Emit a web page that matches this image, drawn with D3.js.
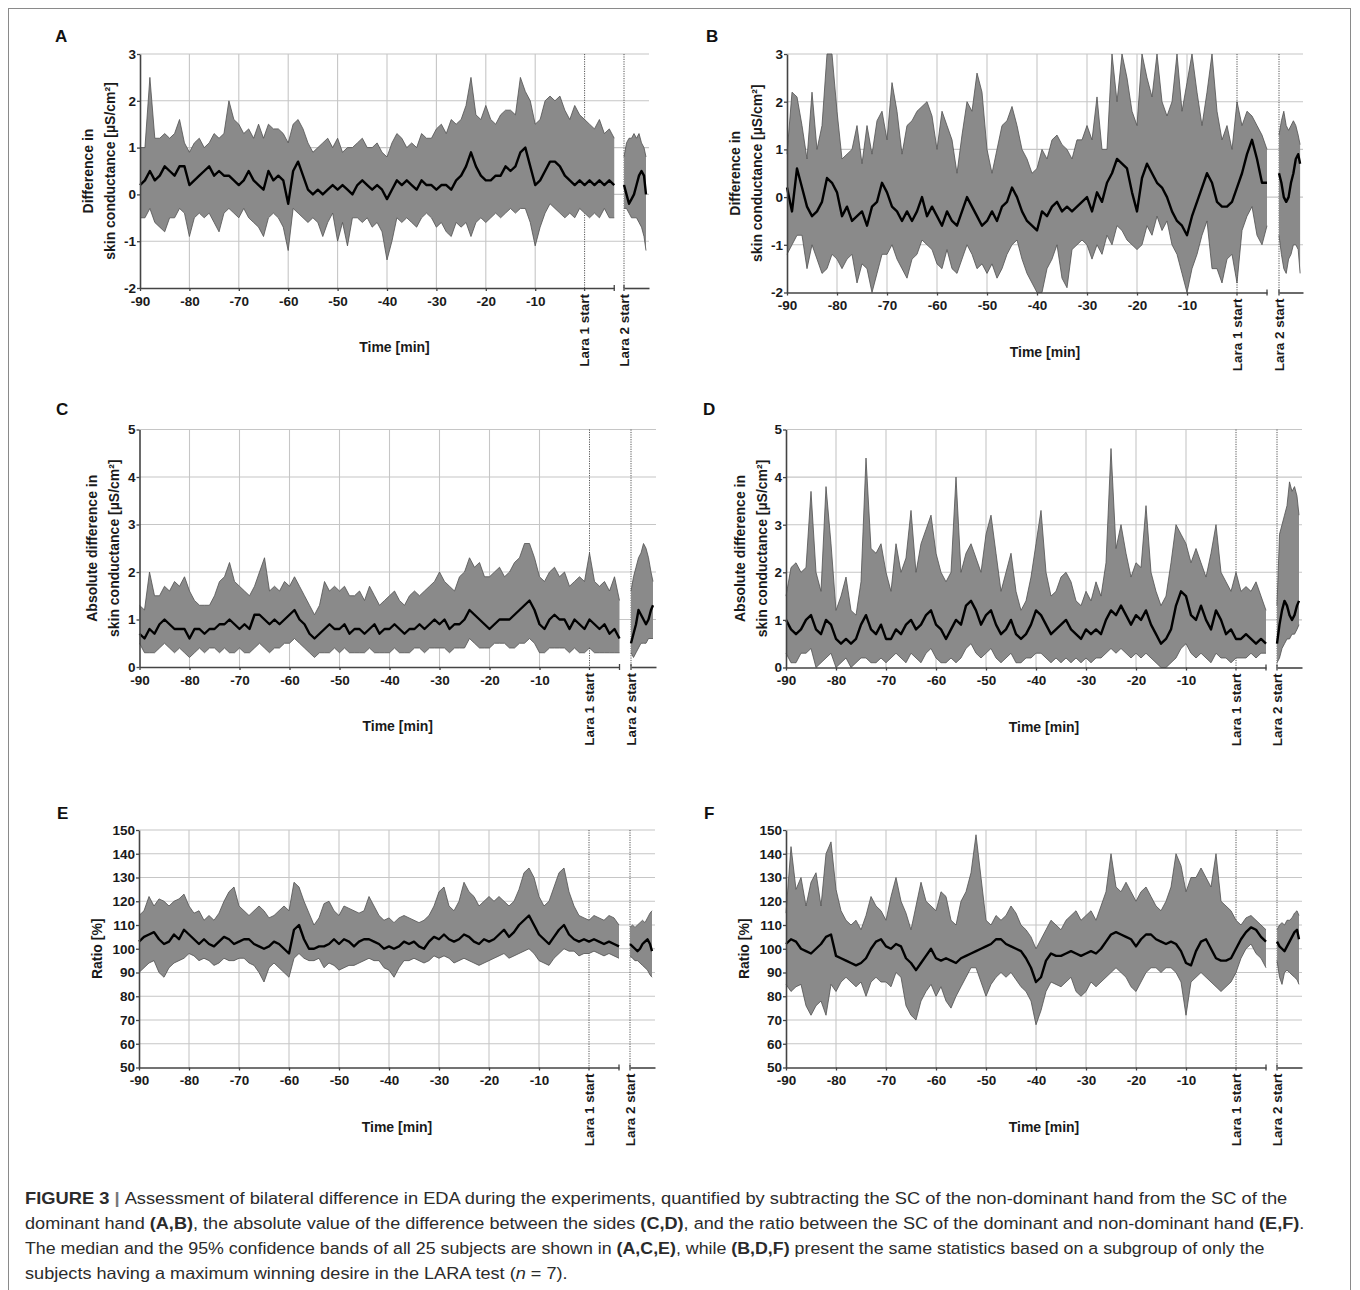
<!DOCTYPE html>
<html><head><meta charset="utf-8">
<script src="https://cdn.jsdelivr.net/npm/d3@7"></script>
<style>body{margin:0;background:#fff}svg{display:block}</style>
</head><body>
<svg id="fig" width="1360" height="1290"></svg>
<script>
// ---------- categories / ticks ----------
const minutes = d3.range(-90, 7);              // -90 .. 6 min relative to Lara 1 start
const lara2Minutes = [0,0.5,1,1.5,2,2.5,3,3.5,4,4.4];
const xTickValues = [-90,-80,-70,-60,-50,-40,-30,-20,-10];
const diffTicks = [-2,-1,0,1,2,3];
const absTicks = [0,1,2,3,4,5];
const ratioTicks = [50,60,70,80,90,100,110,120,130,140,150];

// ---------- Panel A: difference, all subjects ----------
const medA = [0.2,0.3,0.5,0.3,0.4,0.6,0.5,0.4,0.6,0.6, 0.2,0.3,0.4,0.5,0.6,0.4,0.5,0.4,0.4,0.3,
  0.2,0.3,0.5,0.3,0.2,0.1,0.5,0.3,0.4,0.3, -0.2,0.5,0.7,0.4,0.1,0.0,0.1,0.0,0.1,0.2,
  0.1,0.2,0.1,0.0,0.2,0.3,0.2,0.1,0.2,0.1, -0.1,0.1,0.3,0.2,0.3,0.2,0.1,0.3,0.2,0.2,
  0.1,0.2,0.2,0.1,0.3,0.4,0.6,0.9,0.6,0.4, 0.3,0.3,0.4,0.4,0.6,0.5,0.6,0.9,1.0,0.6,
  0.2,0.3,0.5,0.7,0.7,0.6,0.4,0.3,0.2,0.3, 0.2,0.3,0.2,0.3,0.2,0.3,0.2];
const upA = [1.0,1.0,2.5,1.2,1.2,1.3,1.2,1.3,1.6,1.1, 0.9,1.1,1.2,1.0,1.1,1.3,1.2,1.3,2.0,1.6,
  1.5,1.3,1.4,1.2,1.5,1.2,1.5,1.4,1.4,1.3, 1.1,1.5,1.6,1.4,1.1,0.9,1.0,1.1,1.2,1.0,
  1.2,0.9,1.0,1.0,1.1,1.2,1.0,1.0,1.1,0.9, 0.8,1.1,1.3,1.2,1.0,1.1,1.0,1.3,1.2,1.2,
  1.4,1.5,1.3,1.6,1.5,1.6,1.9,2.5,1.7,1.6, 1.9,1.6,1.5,1.7,1.8,1.8,1.7,2.5,2.2,2.0,
  1.5,1.6,2.0,2.1,2.0,2.1,1.8,1.6,1.9,1.7, 1.6,1.5,1.4,1.6,1.3,1.4,1.2];
const lowA = [-0.5,-0.5,-0.3,-0.6,-0.7,-0.8,-0.5,-0.5,-0.3,-0.4, -0.9,-0.5,-0.4,-0.5,-0.4,-0.6,-0.8,-0.4,-0.3,-0.4,
  -0.5,-0.3,-0.5,-0.6,-0.7,-0.9,-0.5,-0.4,-0.5,-0.7, -1.2,-0.3,-0.4,-0.5,-0.6,-0.5,-0.6,-0.9,-0.6,-0.4,
  -1.0,-0.6,-1.1,-0.5,-0.5,-0.6,-0.5,-0.7,-0.6,-0.8, -1.4,-1.0,-0.5,-0.6,-0.5,-0.6,-0.7,-0.5,-0.4,-0.5,
  -0.7,-0.6,-0.8,-0.9,-0.6,-0.7,-0.6,-0.9,-0.6,-0.5, -0.6,-0.5,-0.4,-0.5,-0.4,-0.3,-0.4,-0.3,-0.3,-0.6,
  -1.1,-0.7,-0.4,-0.2,-0.3,-0.4,-0.5,-0.4,-0.5,-0.3, -0.4,-0.5,-0.4,-0.5,-0.3,-0.5,-0.5];
const medA2 = [0.2,0.0,-0.2,-0.1,0.0,0.2,0.4,0.5,0.4,0.0];
const upA2  = [0.8,1.1,1.2,1.2,1.3,1.2,1.3,1.1,1.0,0.8];
const lowA2 = [-0.3,-0.3,-0.4,-0.5,-0.5,-0.5,-0.6,-0.7,-0.9,-1.2];

// ---------- Panel B: difference, subgroup ----------
const medB = [0.2,-0.3,0.6,0.2,-0.2,-0.4,-0.3,-0.1,0.4,0.3, 0.1,-0.4,-0.2,-0.5,-0.4,-0.3,-0.6,-0.2,-0.1,0.3,
  0.1,-0.2,-0.3,-0.5,-0.3,-0.5,-0.3,0.0,-0.4,-0.2, -0.4,-0.6,-0.3,-0.5,-0.6,-0.3,0.0,-0.2,-0.4,-0.6,
  -0.5,-0.3,-0.5,-0.2,-0.1,0.2,0.0,-0.3,-0.5,-0.6, -0.7,-0.3,-0.4,-0.2,-0.1,-0.3,-0.2,-0.3,-0.2,-0.1,
  0.0,-0.3,0.1,-0.1,0.3,0.5,0.8,0.7,0.6,0.1, -0.3,0.4,0.7,0.5,0.3,0.2,0.0,-0.3,-0.5,-0.6,
  -0.8,-0.4,-0.1,0.2,0.5,0.3,-0.1,-0.2,-0.2,-0.1, 0.2,0.5,0.9,1.2,0.8,0.3,0.3];
const upB = [0.9,2.2,2.1,1.5,0.8,2.2,1.0,1.5,3.0,3.0, 1.8,0.8,0.9,1.0,1.5,0.7,1.5,0.9,1.6,1.8,
  1.2,2.4,1.8,0.9,1.5,1.6,1.8,1.9,2.0,1.7, 1.0,1.8,1.5,1.2,0.5,1.3,2.0,1.8,2.6,2.2,
  1.0,0.5,1.0,1.5,1.6,1.9,1.5,1.0,0.8,0.5, 0.6,1.0,0.8,1.2,1.3,1.1,1.0,0.8,1.2,1.2,
  1.5,1.2,2.1,1.0,1.0,3.0,2.0,3.0,2.5,1.8, 1.5,3.0,2.5,2.1,3.0,2.0,1.7,2.0,3.0,1.8,
  2.4,3.0,2.2,1.5,2.2,3.0,1.8,1.2,1.5,1.0, 2.0,1.5,1.8,1.7,1.5,1.3,1.0];
const lowB = [-1.2,-1.0,-0.8,-0.8,-1.5,-1.0,-1.3,-1.6,-1.5,-1.2, -1.3,-1.5,-1.3,-1.2,-1.8,-1.4,-1.5,-2.0,-1.6,-1.2,
  -1.2,-1.0,-1.3,-1.5,-1.7,-1.3,-1.2,-0.9,-1.0,-1.1, -1.4,-1.5,-1.1,-1.5,-1.6,-1.3,-1.0,-1.2,-1.5,-1.4,
  -1.6,-1.4,-1.7,-1.5,-1.2,-1.0,-0.9,-1.3,-1.6,-1.8, -2.0,-2.0,-1.5,-1.3,-1.0,-1.7,-1.9,-1.1,-1.0,-0.9,
  -1.0,-1.3,-1.0,-1.2,-0.8,-1.0,-0.6,-0.7,-0.9,-1.0, -1.1,-1.0,-0.6,-0.8,-0.4,-0.7,-0.5,-1.0,-1.2,-1.6,
  -2.0,-1.5,-1.2,-0.8,-0.5,-1.5,-1.5,-1.8,-1.3,-1.2, -1.8,-0.7,-0.4,-0.2,-0.8,-1.0,-0.6];
const medB2 = [0.5,0.3,0.0,-0.1,0.0,0.3,0.5,0.8,0.9,0.7];
const upB2  = [1.3,1.6,1.8,1.5,1.4,1.5,1.6,1.5,1.3,1.1];
const lowB2 = [-0.8,-1.2,-1.5,-1.6,-1.3,-1.2,-1.0,-1.0,-1.1,-1.6];

// ---------- Panel C: absolute difference, all subjects ----------
const medC = [0.7,0.6,0.8,0.7,0.9,1.0,0.9,0.8,0.8,0.8, 0.6,0.8,0.8,0.7,0.8,0.8,0.9,0.9,1.0,0.9,
  0.8,0.9,0.8,1.1,1.1,1.0,0.9,1.0,0.9,1.0, 1.1,1.2,1.0,0.9,0.7,0.6,0.7,0.8,0.9,0.8,
  0.8,0.9,0.7,0.8,0.8,0.7,0.8,0.9,0.7,0.8, 0.8,0.9,0.8,0.7,0.8,0.8,0.9,0.8,0.9,1.0,
  0.9,1.0,0.8,0.9,0.9,1.0,1.2,1.1,1.0,0.9, 0.8,0.9,1.0,1.0,1.0,1.1,1.2,1.3,1.4,1.2,
  0.9,0.8,1.0,1.1,1.0,1.0,0.8,1.0,0.9,0.8, 1.0,0.9,0.8,0.9,0.7,0.8,0.6];
const upC = [1.3,1.2,2.0,1.5,1.5,1.7,1.6,1.8,1.7,1.9, 1.6,1.4,1.3,1.3,1.3,1.5,1.8,1.9,2.2,1.8,
  1.7,1.6,1.5,1.7,2.0,2.3,1.6,1.7,1.6,1.8, 1.7,1.9,1.7,1.5,1.3,1.1,1.3,1.8,1.6,1.7,
  1.6,1.7,1.5,1.5,1.6,1.4,1.7,1.5,1.3,1.4, 1.5,1.6,1.4,1.3,1.5,1.6,1.5,1.6,1.7,1.8,
  2.0,1.8,1.7,1.6,1.9,2.0,2.3,2.1,2.2,1.9, 1.9,2.0,2.1,1.9,2.0,2.2,2.3,2.6,2.6,2.3,
  1.9,1.8,2.0,2.1,1.9,2.0,1.7,1.8,1.9,1.8, 2.4,1.8,1.7,1.8,1.6,1.9,1.4];
const lowC = [0.5,0.3,0.3,0.3,0.4,0.5,0.4,0.3,0.4,0.3, 0.2,0.3,0.4,0.3,0.4,0.4,0.3,0.4,0.3,0.3,
  0.4,0.3,0.3,0.4,0.5,0.4,0.3,0.4,0.4,0.5, 0.5,0.6,0.5,0.4,0.3,0.2,0.3,0.3,0.3,0.4,
  0.3,0.4,0.3,0.3,0.3,0.3,0.4,0.3,0.3,0.3, 0.3,0.4,0.3,0.3,0.3,0.4,0.4,0.3,0.4,0.4,
  0.4,0.4,0.3,0.4,0.4,0.4,0.6,0.5,0.4,0.4, 0.4,0.5,0.5,0.5,0.4,0.4,0.5,0.5,0.6,0.5,
  0.3,0.3,0.4,0.4,0.4,0.4,0.3,0.4,0.3,0.3, 0.4,0.3,0.3,0.3,0.3,0.3,0.3];
const medC2 = [0.5,0.7,0.9,1.2,1.1,1.0,0.9,1.0,1.2,1.3];
const upC2  = [1.6,1.9,2.1,2.3,2.4,2.6,2.5,2.3,2.0,1.8];
const lowC2 = [0.3,0.2,0.3,0.4,0.5,0.5,0.5,0.6,0.6,0.6];

// ---------- Panel D: absolute difference, subgroup ----------
const medD = [1.0,0.8,0.7,0.8,1.0,1.1,0.8,0.7,1.0,0.9, 0.6,0.5,0.6,0.5,0.6,0.9,1.1,0.8,0.7,0.9,
  0.6,0.6,0.8,0.7,0.9,1.0,0.8,0.9,1.1,1.2, 0.9,0.8,0.6,0.8,1.0,0.9,1.3,1.4,1.2,0.9,
  1.1,1.2,0.9,0.7,0.8,1.0,0.7,0.6,0.7,0.9, 1.2,1.1,0.9,0.7,0.8,0.9,1.0,0.8,0.7,0.6,
  0.8,0.7,0.8,0.7,1.0,1.2,1.1,1.3,1.1,0.9, 1.1,1.0,1.2,0.9,0.7,0.5,0.6,0.8,1.3,1.6,
  1.5,1.1,1.0,1.3,1.0,0.8,1.2,1.0,0.7,0.8, 0.6,0.6,0.7,0.6,0.5,0.6,0.5];
const upD = [1.5,2.1,2.2,2.0,2.1,3.7,2.0,1.6,3.8,2.6, 1.2,1.5,1.9,1.2,1.1,1.8,4.4,2.5,2.4,2.6,
  2.0,1.6,2.6,2.0,2.3,3.3,2.0,2.6,2.9,3.2, 2.4,2.0,1.8,2.0,4.0,2.0,2.4,2.6,2.3,2.0,
  2.8,3.2,2.4,1.6,2.0,2.4,1.6,1.2,1.4,1.9, 2.6,3.3,2.0,1.5,1.6,1.9,2.0,1.8,1.4,1.3,
  1.6,1.4,1.8,1.5,2.2,4.6,2.5,3.0,2.4,1.9, 2.2,2.1,3.4,2.0,1.6,1.3,1.5,2.2,3.0,2.8,
  2.6,2.2,2.5,2.2,1.9,2.4,3.0,2.0,1.8,1.6, 2.0,1.6,1.7,1.6,1.8,1.5,1.2];
const lowD = [0.3,0.1,0.1,0.3,0.3,0.4,0.0,0.1,0.2,0.3, 0.0,0.1,0.2,0.0,0.1,0.2,0.2,0.1,0.1,0.2,
  0.1,0.2,0.3,0.2,0.1,0.3,0.2,0.1,0.3,0.4, 0.2,0.1,0.1,0.2,0.1,0.2,0.4,0.5,0.3,0.2,
  0.3,0.4,0.2,0.1,0.2,0.3,0.1,0.1,0.2,0.2, 0.3,0.3,0.2,0.1,0.2,0.1,0.2,0.1,0.2,0.1,
  0.2,0.1,0.2,0.2,0.3,0.4,0.3,0.4,0.3,0.2, 0.3,0.2,0.3,0.2,0.1,0.0,0.0,0.1,0.2,0.4,
  0.5,0.3,0.2,0.3,0.2,0.1,0.3,0.2,0.2,0.1, 0.2,0.2,0.2,0.3,0.2,0.3,0.3];
const medD2 = [0.5,0.9,1.2,1.4,1.3,1.1,1.0,1.1,1.3,1.4];
const upD2  = [1.3,2.8,3.0,3.2,3.4,3.9,3.7,3.8,3.6,3.2];
const lowD2 = [0.1,0.2,0.4,0.5,0.6,0.6,0.7,0.7,0.8,0.9];

// ---------- Panel E: ratio, all subjects ----------
const medE = [103,105,106,107,104,102,103,106,104,108, 106,104,102,104,102,101,103,105,104,102,
  103,104,104,102,101,100,101,103,102,100, 98,108,110,104,100,100,101,101,102,104,
  102,104,103,101,103,104,104,103,102,100, 101,100,101,103,102,103,101,100,103,105,
  104,106,104,103,104,106,105,103,102,104, 103,104,106,108,105,107,110,112,114,110,
  106,104,102,105,108,110,106,104,103,104, 103,104,103,102,103,102,101];
const upE = [114,116,122,118,121,120,118,120,121,123, 118,115,116,112,114,112,115,120,124,126,
  118,116,114,116,118,116,113,114,116,118, 116,128,126,120,115,110,113,119,120,116,
  114,118,117,116,115,116,122,118,114,112, 113,111,113,114,113,112,111,112,114,118,
  124,126,118,116,120,128,124,122,118,120, 122,120,122,120,118,120,125,132,134,130,
  122,118,120,126,132,134,124,118,114,113, 112,114,113,112,114,113,110];
const lowE = [90,92,94,95,90,88,92,94,95,96, 98,97,95,96,95,93,94,96,95,95,
  96,96,94,93,90,86,92,94,92,90, 88,96,98,96,95,95,96,92,94,93,
  91,92,93,93,94,95,96,95,95,92, 91,88,92,95,95,96,95,94,95,97,
  96,97,96,94,95,96,95,94,93,94, 95,96,97,98,96,97,98,99,100,98,
  95,94,93,96,98,100,99,99,97,98, 98,99,98,97,98,97,96];
const medE2 = [102,101,100,99,100,102,103,104,102,99];
const upE2  = [109,110,109,110,111,112,111,113,115,116];
const lowE2 = [97,96,95,95,94,93,92,91,89,88];

// ---------- Panel F: ratio, subgroup ----------
const medF = [102,104,103,100,99,98,100,102,105,106, 97,96,95,94,93,94,96,100,103,104,
  101,100,102,101,96,94,91,94,97,100, 96,95,96,95,94,96,97,98,99,100,
  101,102,104,104,102,101,100,99,96,92, 86,88,95,98,97,97,98,99,98,97,
  98,99,98,100,103,106,107,106,105,104, 101,104,106,106,104,103,102,103,102,99,
  94,93,99,103,104,100,96,95,95,96, 100,104,107,109,108,105,103];
const upF = [115,143,125,130,118,128,132,118,140,145, 125,116,112,110,112,108,114,122,118,116,
  112,122,130,120,115,108,118,128,120,118, 116,124,122,112,110,120,124,132,148,130,
  112,110,114,112,114,118,115,110,108,105, 100,104,108,112,110,108,112,114,116,112,
  114,116,112,118,124,140,126,124,128,124, 120,124,126,122,118,116,120,126,140,135,
  124,130,130,134,130,126,140,120,118,116, 112,110,113,114,112,110,108];
const lowF = [85,82,84,85,76,72,76,78,72,85, 82,86,88,86,84,86,80,86,88,86,
  86,84,90,88,76,72,70,78,82,85, 80,84,78,75,80,84,88,92,92,86,
  80,85,88,90,88,90,87,84,82,78, 68,74,82,86,85,84,86,88,82,80,
  82,86,84,86,88,90,92,90,88,84, 82,86,90,92,92,90,92,92,90,86,
  72,86,88,90,88,86,84,82,84,86, 90,96,100,102,98,96,92];
const medF2 = [103,101,100,99,101,103,105,107,108,104];
const upF2  = [108,110,111,110,112,112,113,115,116,114];
const lowF2 = [95,88,85,90,91,90,89,88,87,85];

// ---------- labels ----------
const diffLabel = ["Difference in", "skin conductance [µS/cm²]"];
const absLabel = ["Absolute difference in", "skin conductance [µS/cm²]"];
const ratioLabel = ["Ratio [%]"];
const xTitle = "Time [min]";
const laraLabels = ["Lara 1 start", "Lara 2 start"];

// ---------- layout (positions only) ----------
const panels = [
  {id:"A", med:medA, up:upA, low:lowA, med2:medA2, up2:upA2, low2:lowA2, ticks:diffTicks, label:diffLabel,
   x0:140, ppm:4.94, yTop:54, yBot:288, l2x0:624, l2x1:649, labelX:[88,110], letter:[55,42]},
  {id:"B", med:medB, up:upB, low:lowB, med2:medB2, up2:upB2, low2:lowB2, ticks:diffTicks, label:diffLabel,
   x0:787, ppm:5.0, yTop:54, yBot:292.5, l2x0:1279, l2x1:1303, labelX:[735,757], letter:[706,42]},
  {id:"C", med:medC, up:upC, low:lowC, med2:medC2, up2:upC2, low2:lowC2, ticks:absTicks, label:absLabel,
   x0:139.5, ppm:5.0, yTop:429.5, yBot:667, l2x0:631, l2x1:656, labelX:[92,114], letter:[56,415]},
  {id:"D", med:medD, up:upD, low:lowD, med2:medD2, up2:upD2, low2:lowD2, ticks:absTicks, label:absLabel,
   x0:786, ppm:5.0, yTop:429.5, yBot:667.5, l2x0:1277, l2x1:1302, labelX:[740,762], letter:[703,415]},
  {id:"E", med:medE, up:upE, low:lowE, med2:medE2, up2:upE2, low2:lowE2, ticks:ratioTicks, label:ratioLabel,
   x0:139, ppm:5.0, yTop:830, yBot:1067.5, l2x0:630, l2x1:655, labelX:[97], letter:[57,819]},
  {id:"F", med:medF, up:upF, low:lowF, med2:medF2, up2:upF2, low2:lowF2, ticks:ratioTicks, label:ratioLabel,
   x0:786, ppm:5.0, yTop:830, yBot:1067.5, l2x0:1277, l2x1:1302, labelX:[744], letter:[704,819]}
];

const FONT = "'Liberation Sans', Arial, Helvetica, sans-serif";
const fmt = d => String(d);   // plain hyphen-minus as in the original
const svg = d3.select("#fig");
svg.append("rect").attr("width",1360).attr("height",1290).attr("fill","#fff");
// figure frame
svg.append("rect").attr("x",8.5).attr("y",8.5).attr("width",1342).attr("height",1300)
  .attr("fill","none").attr("stroke","#8a8a8a").attr("stroke-width",1);

panels.forEach(p => {
  const g = svg.append("g");
  const tMax = 6;
  const x = d3.scaleLinear().domain([-90, tMax]).range([p.x0, p.x0 + (tMax + 90) * p.ppm]);
  const x2 = d3.scaleLinear().domain([0, 5]).range([p.l2x0, p.l2x1]);
  const yDom = d3.extent(p.ticks);
  const y = d3.scaleLinear().domain(yDom).range([p.yBot, p.yTop]).clamp(true);

  // grid
  g.selectAll(".hg").data(p.ticks.filter(t => t !== yDom[0])).join("line")
    .attr("x1", p.x0).attr("x2", p.l2x1).attr("y1", d => y(d)).attr("y2", d => y(d))
    .attr("stroke", "#c6c6c6").attr("stroke-width", 1.1);
  g.selectAll(".vg").data(xTickValues.filter(t => t !== -90)).join("line")
    .attr("x1", d => x(d)).attr("x2", d => x(d)).attr("y1", p.yTop).attr("y2", p.yBot)
    .attr("stroke", "#c6c6c6").attr("stroke-width", 1.1);
  [x(0), x2(0)].forEach(xx => {
    g.append("line").attr("x1", xx).attr("x2", xx).attr("y1", p.yTop).attr("y2", p.yBot)
      .attr("stroke", "#555").attr("stroke-width", 1).attr("stroke-dasharray", "1.2,1.2");
  });

  // data
  const main = minutes.map((t, i) => ({t, m: p.med[i], lo: p.low[i], hi: p.up[i]}));
  const seg2 = lara2Minutes.map((t, i) => ({t, m: p.med2[i], lo: p.low2[i], hi: p.up2[i]}));
  [[main, x], [seg2, x2]].forEach(([data, sx]) => {
    const area = d3.area().x(d => sx(d.t)).y0(d => y(d.lo)).y1(d => y(d.hi));
    g.append("path").datum(data).attr("d", area).attr("fill", "#8a8a8a");
    ["lo", "hi"].forEach(k => {
      g.append("path").datum(data)
        .attr("d", d3.line().x(d => sx(d.t)).y(d => y(d[k])))
        .attr("fill", "none").attr("stroke", "#505050").attr("stroke-width", 0.8);
    });
    g.append("path").datum(data)
      .attr("d", d3.line().x(d => sx(d.t)).y(d => y(d.m)))
      .attr("fill", "none").attr("stroke", "#000").attr("stroke-width", 2.4)
      .attr("stroke-linejoin", "round");
  });

  // y axis
  const ya = g.append("g").attr("transform", `translate(${p.x0},0)`)
    .call(d3.axisLeft(y).tickValues(p.ticks).tickSize(3).tickSizeOuter(0).tickPadding(1)
      .tickFormat(fmt));
  // x axis main
  const xa = g.append("g").attr("transform", `translate(0,${p.yBot})`)
    .call(d3.axisBottom(x).tickValues(xTickValues).tickSize(3).tickSizeOuter(0).tickPadding(5)
      .tickFormat(fmt));
  const xb = g.append("g").attr("transform", `translate(0,${p.yBot})`)
    .call(d3.axisBottom(x2).tickValues([]).tickSizeOuter(0));
  [ya, xa, xb].forEach(a => {
    a.select(".domain").attr("stroke", "#444").attr("stroke-width", 1.6);
    a.selectAll(".tick line").attr("stroke", "#444").attr("stroke-width", 1.3);
    a.selectAll("text").attr("font-family", FONT).attr("font-weight", "bold")
      .attr("font-size", "13.5px").attr("fill", "#1a1a1a");
  });
  // lara ticks and break marks
  [[x(0), 0, 3], [x(tMax), -3, 3], [x2(0), -3, 3]].forEach(([xx, a, b]) => {
    g.append("line").attr("x1", xx).attr("x2", xx).attr("y1", p.yBot + a).attr("y2", p.yBot + b)
      .attr("stroke", "#444").attr("stroke-width", 1.3);
  });
  // lara labels
  [[x(0), laraLabels[0]], [x2(0), laraLabels[1]]].forEach(([xx, txt]) => {
    g.append("text").attr("transform", `translate(${xx},${p.yBot + 6}) rotate(-90)`)
      .attr("text-anchor", "end").attr("dy", "0.36em")
      .attr("font-family", FONT).attr("font-weight", "bold").attr("font-size", "13.5px")
      .attr("fill", "#1a1a1a").text(txt);
  });
  // x title
  g.append("text").attr("x", (p.x0 + p.l2x1) / 2).attr("y", p.yBot + 64)
    .attr("text-anchor", "middle").attr("font-family", FONT).attr("font-weight", "bold")
    .attr("font-size", "14px").attr("fill", "#1a1a1a").text(xTitle);
  // y title
  const cy = (p.yTop + p.yBot) / 2;
  p.label.forEach((ln, i) => {
    g.append("text").attr("transform", `translate(${p.labelX[i]},${cy}) rotate(-90)`)
      .attr("text-anchor", "middle").attr("dy", "0.36em")
      .attr("font-family", FONT).attr("font-weight", "bold").attr("font-size", "14px")
      .attr("fill", "#1a1a1a").text(ln);
  });
  // panel letter
  g.append("text").attr("x", p.letter[0]).attr("y", p.letter[1])
    .attr("font-family", FONT).attr("font-weight", "bold").attr("font-size", "17px")
    .attr("fill", "#111").text(p.id);
});

// ---------- caption ----------
const captionLines = [
  [["FIGURE 3", "b"], [" | ", "b"], ["Assessment of bilateral difference in EDA during the experiments, quantified by subtracting the SC of the non-dominant hand from the SC of the", "r"]],
  [["dominant hand ", "r"], ["(A,B)", "b"], [", the absolute value of the difference between the sides ", "r"], ["(C,D)", "b"], [", and the ratio between the SC of the dominant and non-dominant hand ", "r"], ["(E,F)", "b"], [".", "r"]],
  [["The median and the 95% confidence bands of all 25 subjects are shown in ", "r"], ["(A,C,E)", "b"], [", while ", "r"], ["(B,D,F)", "b"], [" present the same statistics based on a subgroup of only the", "r"]],
  [["subjects having a maximum winning desire in the LARA test (", "r"], ["n", "i"], [" = 7).", "r"]]
];
const captionY = [1204, 1229, 1254, 1279];
const captionEnd = [1289, 1305, 1265, 568];
captionLines.forEach((parts, i) => {
  const t = svg.append("text").attr("x", 0).attr("y", 0)
    .attr("font-family", FONT).attr("font-size", "16.5px").attr("fill", "#2b2b2b")
    .style("white-space", "pre");
  parts.forEach(([s, st]) => {
    t.append("tspan").text(s)
      .attr("font-weight", st === "b" ? "bold" : "normal")
      .attr("font-style", st === "i" ? "italic" : "normal")
      .attr("fill", s.trim() === "|" ? "#777" : null);
  });
  const w = t.node().getBBox().width;
  const sx = (captionEnd[i] - 25) / w;
  t.attr("transform", `translate(25,${captionY[i]}) scale(${sx},1)`);
});
</script>
</body></html>
